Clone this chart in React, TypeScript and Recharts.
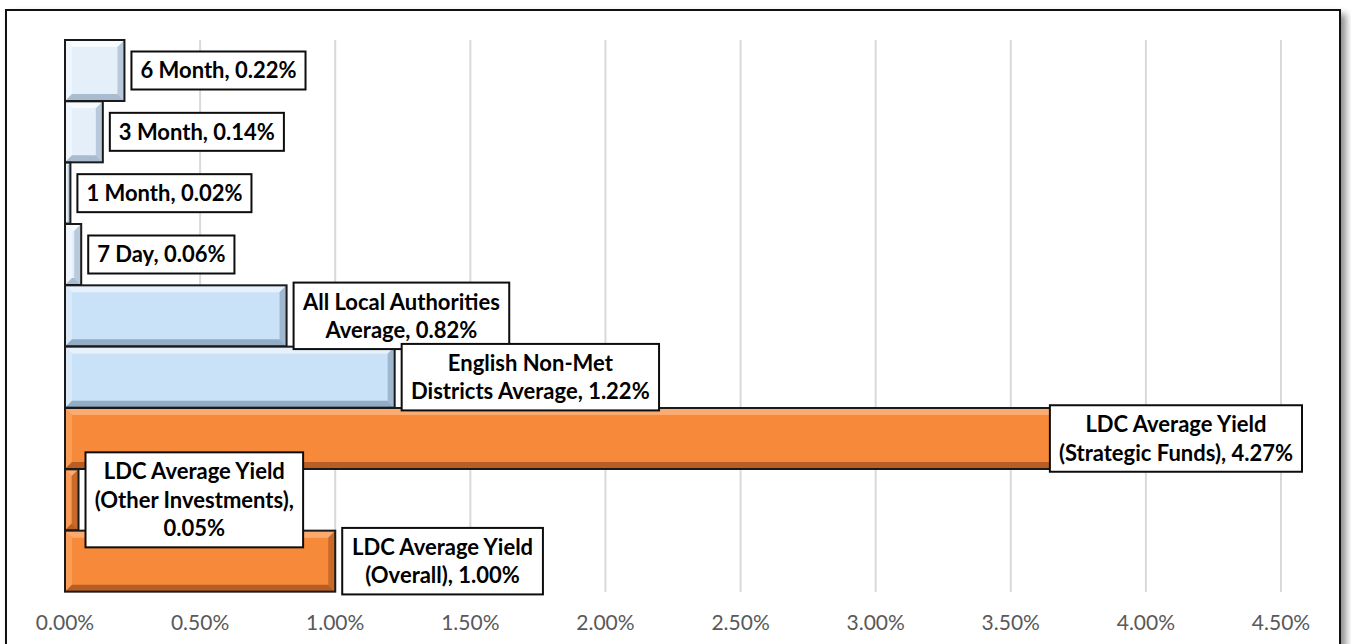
import React from 'react';
import { BarChart, Bar, XAxis, YAxis, CartesianGrid, LabelList } from 'recharts';

// yields in percent, top row first
const categories = [
  '6 Month',
  '3 Month',
  '1 Month',
  '7 Day',
  'All Local Authorities Average',
  'English Non-Met Districts Average',
  'LDC Average Yield (Strategic Funds)',
  'LDC Average Yield (Other Investments)',
  'LDC Average Yield (Overall)',
];
const yields = [0.22, 0.14, 0.02, 0.06, 0.82, 1.22, 4.27, 0.05, 1.0];
const groups = ['rate', 'rate', 'rate', 'rate', 'avg', 'avg', 'ldc', 'ldc', 'ldc'];
const labelLines = [
  ['6 Month, 0.22%'],
  ['3 Month, 0.14%'],
  ['1 Month, 0.02%'],
  ['7 Day, 0.06%'],
  ['All Local Authorities', 'Average, 0.82%'],
  ['English Non-Met', 'Districts Average, 1.22%'],
  ['LDC Average Yield', '(Strategic Funds), 4.27%'],
  ['LDC Average Yield', '(Other Investments),', '0.05%'],
  ['LDC Average Yield', '(Overall), 1.00%'],
];
const xTicks = [0, 0.5, 1, 1.5, 2, 2.5, 3, 3.5, 4, 4.5];

const data = categories.map((name, i) => ({ name, value: yields[i], group: groups[i] }));

const COLORS: { [k: string]: { base: string; light: string; side: string; dark: string; bottom: string } } = {
  rate: { base: '#e4eff9', light: '#f7fbfe', side: '#eef5fc', dark: '#b7c9db', bottom: '#a9bccf' },
  avg: { base: '#cae2f7', light: '#e6f1fb', side: '#d8eafa', dark: '#9fb8cf', bottom: '#93adc5' },
  ldc: { base: '#f7893a', light: '#fbab70', side: '#f99c58', dark: '#c9692a', bottom: '#b85e24' },
};

const FONT = 'Lato, "Open Sans", sans-serif';
const LABEL_FONT_SIZE = 22;
const LINE_H = 28.5;
const LABEL_MAX_RIGHT = 1302;

let measureCtx: CanvasRenderingContext2D | null = null;
const textWidth = (t: string) => {
  if (!measureCtx) measureCtx = document.createElement('canvas').getContext('2d');
  if (!measureCtx) return t.length * 11.5;
  measureCtx.font = `bold ${LABEL_FONT_SIZE}px Lato`;
  return measureCtx.measureText(t).width;
};

const BevelBar = (props: any) => {
  const { x, y, width, height, payload } = props;
  if (!width || width <= 0) return null;
  const c = COLORS[payload.group];
  const b = Math.min(7, width / 2, height / 2);
  const r = x + width;
  const btm = y + height;
  return (
    <g>
      <rect x={x} y={y} width={width} height={height} fill={c.base} />
      <polygon points={`${x},${y} ${r},${y} ${r - b},${y + b} ${x + b},${y + b}`} fill={c.light} />
      <polygon points={`${x},${y} ${x + b},${y + b} ${x + b},${btm - b} ${x},${btm}`} fill={c.side} />
      <polygon points={`${r},${y} ${r},${btm} ${r - b},${btm - b} ${r - b},${y + b}`} fill={c.dark} />
      <polygon points={`${x},${btm} ${x + b},${btm - b} ${r - b},${btm - b} ${r},${btm}`} fill={c.bottom} />
      <rect x={x} y={y} width={width} height={height} fill="none" stroke="#1a1a1a" strokeWidth={2} />
    </g>
  );
};

const BoxLabel = (props: any) => {
  const vb = props.viewBox || {};
  const x = props.x ?? vb.x;
  const y = props.y ?? vb.y;
  const width = props.width ?? vb.width;
  const height = props.height ?? vb.height;
  const lines = labelLines[props.index];
  if (!lines) return null;
  const boxW = Math.max(...lines.map(textWidth)) + 18;
  const boxH = lines.length * LINE_H + 9.5;
  let left = x + width + 7;
  if (left + boxW > LABEL_MAX_RIGHT) left = LABEL_MAX_RIGHT - boxW;
  const cy = y + height / 2;
  const top = cy - boxH / 2;
  return (
    <g>
      <rect x={left} y={top} width={boxW} height={boxH} fill="#fff" stroke="#0d0d0d" strokeWidth={2} />
      {lines.map((ln, i) => (
        <text
          key={i}
          x={left + boxW / 2}
          y={top + 4.75 + LINE_H * (i + 0.5)}
          dy="0.36em"
          textAnchor="middle"
          fontFamily={FONT}
          fontWeight="bold"
          fontSize={LABEL_FONT_SIZE}
          fill="#000"
        >
          {ln}
        </text>
      ))}
    </g>
  );
};

export default function App() {
  return (
    <div style={{ position: 'absolute', left: 0, top: 0, width: 1351, height: 644, overflow: 'hidden', background: '#fff' }}>
      <div
        style={{
          position: 'absolute',
          left: 5,
          top: 9,
          width: 1332,
          height: 700,
          border: '2px solid #111',
          boxShadow: '5px 5px 7px rgba(0,0,0,0.45)',
          background: '#fff',
        }}
      />
      <div style={{ position: 'absolute', left: 0, top: 0 }}>
        <BarChart
          width={1351}
          height={644}
          data={data}
          layout="vertical"
          barCategoryGap={0}
          margin={{ top: 40, right: 70, bottom: 0, left: 65 }}
        >
          <CartesianGrid horizontal={false} stroke="#d9d9d9" strokeWidth={2} />
          <XAxis
            type="number"
            dataKey="value"
            domain={[0, 4.5]}
            ticks={xTicks}
            interval={0}
            height={52}
            axisLine={false}
            tickLine={false}
            tickSize={0}
            tickMargin={23}
            tickFormatter={(v: number) => `${v.toFixed(2)}%`}
            tick={{ fill: '#595959', fontSize: 21, fontFamily: FONT }}
          />
          <YAxis type="category" dataKey="name" hide />
          <Bar dataKey="value" shape={<BevelBar />} isAnimationActive={false}>
            <LabelList dataKey="value" content={<BoxLabel />} />
          </Bar>
        </BarChart>
      </div>
    </div>
  );
}
